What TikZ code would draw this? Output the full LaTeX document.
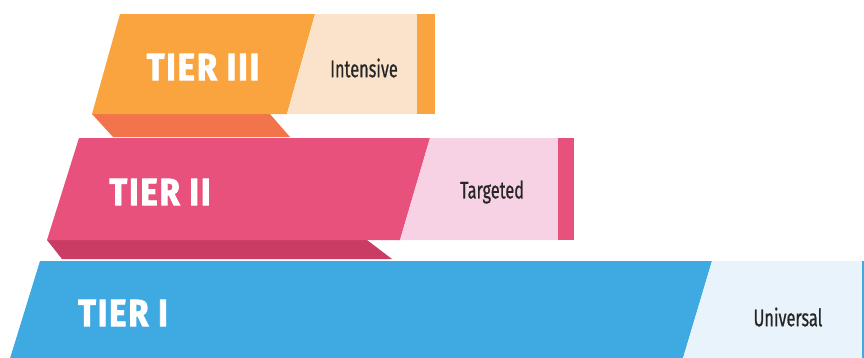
\documentclass[tikz,border=0pt]{standalone}
\usepackage{fontspec}
\setmainfont{Fira Sans}
\newfontfamily\tiernamefont{Fira Sans}[FakeStretch=0.86, FakeBold=2.2, LetterSpace=5]
\newfontfamily\tierdescfont{Fira Sans}[FakeStretch=0.68, FakeBold=0.6]
\definecolor{tierorange}{HTML}{F9A43F}
\definecolor{tierpeach}{HTML}{FBE3CB}
\definecolor{tierorangeside}{HTML}{F2744A}
\definecolor{tierpink}{HTML}{E9517D}
\definecolor{tierpinklight}{HTML}{F6D2E4}
\definecolor{tierpinkside}{HTML}{C93D64}
\definecolor{tierblue}{HTML}{3FAAE2}
\definecolor{tierbluelight}{HTML}{E8F3FB}
\tikzset{
    tiername/.style={text=white, font=\tiernamefont\bfseries\fontsize{38}{38}\selectfont, inner sep=0pt},
    tierdesc/.style={text=black!85, font=\tierdescfont\fontsize{24}{24}\selectfont, inner sep=0pt}
}
\begin{document}
\begin{tikzpicture}[x=1pt, y=-1pt]
    \useasboundingbox (0,0) rectangle (864,357);
    \begin{scope}
    \clip (0,0) rectangle (864,357);
    % tier III
    \fill[tierorangeside] (92,114) -- (270,114) -- (290,137) -- (113,137) -- cycle;
    \fill[tierorange] (120,14) -- (315,14) -- (287,114) -- (92,114) -- cycle;
    \fill[tierpeach] (315,14) -- (417,14) -- (417,114) -- (287,114) -- cycle;
    \fill[tierorange] (417,14) rectangle (435,114);
    % tier II
    \fill[tierpinkside] (47,240) -- (367,240) -- (392,259) -- (62,259) -- cycle;
    \fill[tierpink] (79,138) -- (430,138) -- (400,240) -- (47,240) -- cycle;
    \fill[tierpinklight] (430,138) -- (558,138) -- (558,240) -- (400,240) -- cycle;
    \fill[tierpink] (558,138) rectangle (574,240);
    % tier I
    \fill[tierblue] (40,261) -- (712,261) -- (681,365) -- (8,365) -- cycle;
    \fill[tierbluelight] (712,261) -- (862,261) -- (862,365) -- (681,365) -- cycle;
    \fill[tierblue] (862,261) rectangle (870,365);
    \end{scope}
    \node(tierthree) [tiername] at (203,67) {TIER III};
    \node(tiertwo) [tiername] at (160,192) {TIER II};
    \node(tierone) [tiername] at (123,313) {TIER I};
    \node(intensive) [tierdesc] at (364,68) {Intensive};
    \node(targeted) [tierdesc] at (492,192) {Targeted};
    \node(universal) [tierdesc] at (788,317) {Universal};
\end{tikzpicture}
\end{document}
